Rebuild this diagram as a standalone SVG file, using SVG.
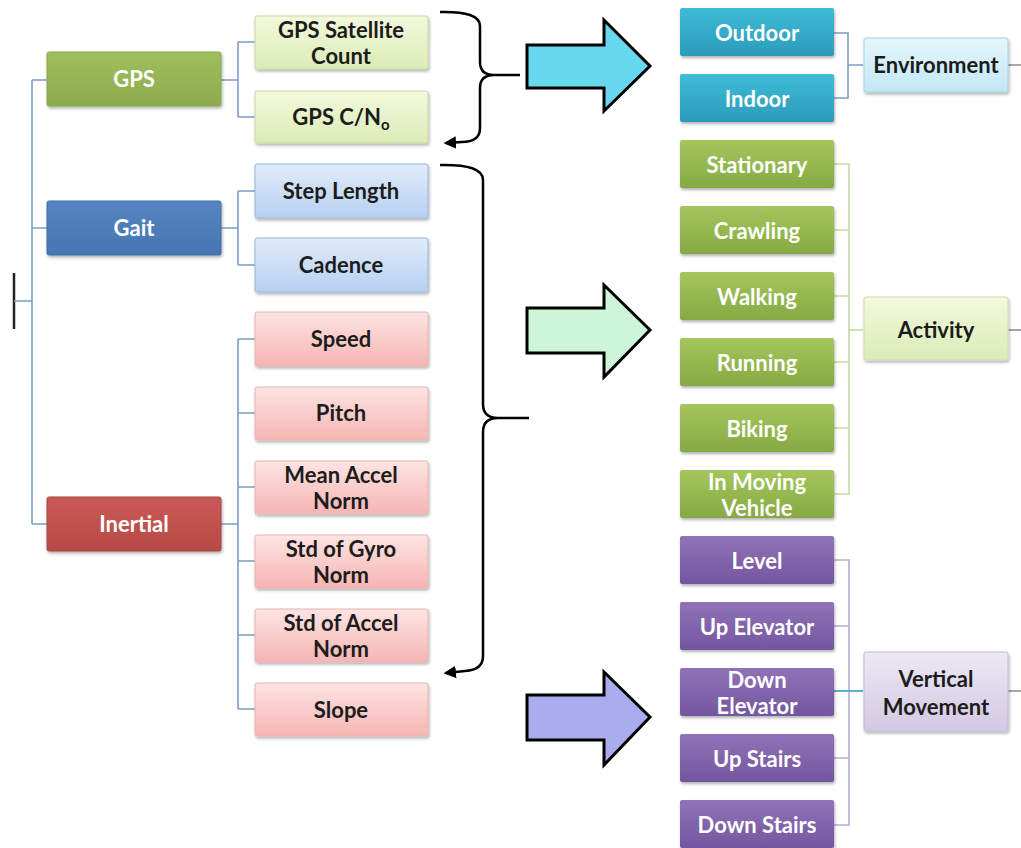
<svg xmlns="http://www.w3.org/2000/svg" width="1021" height="848" viewBox="0 0 1021 848">
<defs>
<filter id="sh" x="-10%" y="-10%" width="125%" height="135%"><feDropShadow dx="1" dy="2" stdDeviation="1.5" flood-color="#000" flood-opacity="0.3"/></filter>
<linearGradient id="gGps" x1="0" y1="0" x2="0" y2="1"><stop offset="0" stop-color="#9fbf5e"/><stop offset="1" stop-color="#8cab4c"/></linearGradient>
<linearGradient id="gGpsC" x1="0" y1="0" x2="0" y2="1"><stop offset="0" stop-color="#f2f9dc"/><stop offset="1" stop-color="#dcebb6"/></linearGradient>
<linearGradient id="gGait" x1="0" y1="0" x2="0" y2="1"><stop offset="0" stop-color="#5585c1"/><stop offset="1" stop-color="#4676b2"/></linearGradient>
<linearGradient id="gGaitC" x1="0" y1="0" x2="0" y2="1"><stop offset="0" stop-color="#e0ebfa"/><stop offset="1" stop-color="#b7d0f1"/></linearGradient>
<linearGradient id="gIn" x1="0" y1="0" x2="0" y2="1"><stop offset="0" stop-color="#c85a56"/><stop offset="1" stop-color="#b84a47"/></linearGradient>
<linearGradient id="gInC" x1="0" y1="0" x2="0" y2="1"><stop offset="0" stop-color="#fde4e3"/><stop offset="1" stop-color="#f6b5b3"/></linearGradient>
<linearGradient id="gTeal" x1="0" y1="0" x2="0" y2="1"><stop offset="0" stop-color="#3fbcd8"/><stop offset="1" stop-color="#2b9bb9"/></linearGradient>
<linearGradient id="gEnv" x1="0" y1="0" x2="0" y2="1"><stop offset="0" stop-color="#e6f6fc"/><stop offset="1" stop-color="#c2e8f5"/></linearGradient>
<linearGradient id="gAct" x1="0" y1="0" x2="0" y2="1"><stop offset="0" stop-color="#a4c65c"/><stop offset="1" stop-color="#87a944"/></linearGradient>
<linearGradient id="gActP" x1="0" y1="0" x2="0" y2="1"><stop offset="0" stop-color="#f2f9dc"/><stop offset="1" stop-color="#dbebb8"/></linearGradient>
<linearGradient id="gPur" x1="0" y1="0" x2="0" y2="1"><stop offset="0" stop-color="#9172b8"/><stop offset="1" stop-color="#7356a0"/></linearGradient>
<linearGradient id="gVm" x1="0" y1="0" x2="0" y2="1"><stop offset="0" stop-color="#ede8f4"/><stop offset="1" stop-color="#d3c9e3"/></linearGradient>
<marker id="ah" viewBox="0 0 10 10" refX="8" refY="5" markerWidth="5" markerHeight="5" orient="auto-start-reverse"><path d="M0,0 L10,5 L0,10 Z" fill="#000"/></marker>
</defs>
<style>
.t{font-family:Lato,"Open Sans","Liberation Sans",sans-serif;font-weight:700;font-size:22px;text-anchor:middle}
.w{fill:#ffffff}
.d{fill:#1c1c1c}
.b{filter:url(#sh)}
.ln{fill:none;stroke:#7d9dc6;stroke-width:1.6}
.lg{fill:none;stroke:#c6d9a0;stroke-width:1.6}
.lp{fill:none;stroke:#b8acd2;stroke-width:1.6}
.lgray{fill:none;stroke:#8a8a8a;stroke-width:1.6}
.br{fill:none;stroke:#000;stroke-width:2.5}
.ar{stroke:#000;stroke-width:3;stroke-linejoin:miter}
</style>
<rect width="1021" height="848" fill="#ffffff"/>

<g id="connectors">
<path class="lgray" d="M14,273 V329" style="stroke:#222;stroke-width:2.5"/>
<path class="ln" d="M14,301 H32 M32,80 V524 M32,80 H47 M32,228 H47 M32,524 H47"/>
<path class="ln" d="M221,80 H238 M238,42 V117 M238,42 H255 M238,117 H255"/>
<path class="ln" d="M221,228 H238 M238,191 V265 M238,191 H255 M238,265 H255"/>
<path class="ln" d="M221,524 H238 M238,339 V709 M238,339 H255 M238,413 H255 M238,487 H255 M238,561 H255 M238,635 H255 M238,709 H255"/>
<path class="ln" d="M834,33 H848 V98 H834 M848,65 H863"/>
<path class="lgray" d="M1008,65 H1021 M1008,330 H1021 M1008,691 H1021"/>
<path class="lg" d="M834,164 H849 V494 H834 M834,230 H849 M834,296 H849 M834,362 H849 M834,428 H849 M849,330 H863"/>
<path class="lp" d="M834,560 H849 V825 H834 M834,626 H849 M834,758 H849"/>
<path d="M834,691 H863" fill="none" stroke="#4aa6d2" stroke-width="1.8"/>
<path class="br" d="M440,12 Q480,11 480,26 V62 Q480,75 494,75 H520 M494,75 Q480,75 480,88 V128 Q480,142 462,142 L446,143" marker-end="url(#ah)"/>
<path class="br" d="M440,165 Q483,164 483,180 V404 Q483,418 498,418 H529 M498,418 Q483,418 483,432 V656 Q483,670 465,671 L446,673" marker-end="url(#ah)"/>
<path class="ar" fill="#67d9ee" d="M527,45 H604 V20 L650,66 L604,111 V88 H527 Z"/>
<path class="ar" fill="#cdf5d7" d="M527,308 H604 V285 L650,330 L604,377 V353 H527 Z"/>
<path class="ar" fill="#aaaced" d="M527,695 H604 V672 L650,717 L604,765 V740 H527 Z"/>
</g>

<g id="n-gps"><rect class="b" x="47" y="52" width="174" height="54" rx="2" fill="url(#gGps)" stroke="#8aa84a" stroke-width="1"/><text class="t w" x="134" y="87">GPS</text></g>
<g id="n-gait"><rect class="b" x="47" y="201" width="174" height="54" rx="2" fill="url(#gGait)" stroke="#3f6ea8" stroke-width="1"/><text class="t w" x="134" y="236">Gait</text></g>
<g id="n-inertial"><rect class="b" x="47" y="497" width="174" height="54" rx="2" fill="url(#gIn)" stroke="#a84442" stroke-width="1"/><text class="t w" x="134" y="532">Inertial</text></g>

<g id="n-satcount"><rect class="b" x="255" y="16" width="173" height="53" rx="2" fill="url(#gGpsC)" stroke="#c8d9a4" stroke-width="1"/><text class="t d" x="341" y="38">GPS Satellite</text><text class="t d" x="341" y="64">Count</text></g>
<g id="n-cno"><rect class="b" x="255" y="91" width="173" height="52" rx="2" fill="url(#gGpsC)" stroke="#c8d9a4" stroke-width="1"/><text class="t d" x="341" y="125">GPS C/N<tspan font-size="15" dy="5">o</tspan></text></g>
<g id="n-step"><rect class="b" x="255" y="164" width="173" height="54" rx="2" fill="url(#gGaitC)" stroke="#98b6dc" stroke-width="1"/><text class="t d" x="341" y="199">Step Length</text></g>
<g id="n-cadence"><rect class="b" x="255" y="238" width="173" height="54" rx="2" fill="url(#gGaitC)" stroke="#98b6dc" stroke-width="1"/><text class="t d" x="341" y="273">Cadence</text></g>
<g id="n-speed"><rect class="b" x="255" y="312" width="173" height="54" rx="2" fill="url(#gInC)" stroke="#e8b4b2" stroke-width="1"/><text class="t d" x="341" y="347">Speed</text></g>
<g id="n-pitch"><rect class="b" x="255" y="387" width="173" height="53" rx="2" fill="url(#gInC)" stroke="#e8b4b2" stroke-width="1"/><text class="t d" x="341" y="421">Pitch</text></g>
<g id="n-meanaccel"><rect class="b" x="255" y="461" width="173" height="53" rx="2" fill="url(#gInC)" stroke="#e8b4b2" stroke-width="1"/><text class="t d" x="341" y="483">Mean Accel</text><text class="t d" x="341" y="509">Norm</text></g>
<g id="n-stdgyro"><rect class="b" x="255" y="535" width="173" height="53" rx="2" fill="url(#gInC)" stroke="#e8b4b2" stroke-width="1"/><text class="t d" x="341" y="557">Std of Gyro</text><text class="t d" x="341" y="583">Norm</text></g>
<g id="n-stdaccel"><rect class="b" x="255" y="609" width="173" height="53" rx="2" fill="url(#gInC)" stroke="#e8b4b2" stroke-width="1"/><text class="t d" x="341" y="631">Std of Accel</text><text class="t d" x="341" y="657">Norm</text></g>
<g id="n-slope"><rect class="b" x="255" y="683" width="173" height="53" rx="2" fill="url(#gInC)" stroke="#e8b4b2" stroke-width="1"/><text class="t d" x="341" y="718">Slope</text></g>

<g id="n-outdoor"><rect class="b" x="680" y="8" width="154" height="48" rx="2" fill="url(#gTeal)"/><text class="t w" x="757" y="41">Outdoor</text></g>
<g id="n-indoor"><rect class="b" x="680" y="74" width="154" height="48" rx="2" fill="url(#gTeal)"/><text class="t w" x="757" y="107">Indoor</text></g>
<g id="n-environment"><rect class="b" x="864" y="38" width="144" height="54" rx="2" fill="url(#gEnv)" stroke="#9fd3e3" stroke-width="1"/><text class="t d" x="936" y="73">Environment</text></g>

<g id="n-stationary"><rect class="b" x="680" y="140" width="154" height="48" rx="2" fill="url(#gAct)"/><text class="t w" x="757" y="173">Stationary</text></g>
<g id="n-crawling"><rect class="b" x="680" y="206" width="154" height="48" rx="2" fill="url(#gAct)"/><text class="t w" x="757" y="239">Crawling</text></g>
<g id="n-walking"><rect class="b" x="680" y="272" width="154" height="48" rx="2" fill="url(#gAct)"/><text class="t w" x="757" y="305">Walking</text></g>
<g id="n-running"><rect class="b" x="680" y="338" width="154" height="48" rx="2" fill="url(#gAct)"/><text class="t w" x="757" y="371">Running</text></g>
<g id="n-biking"><rect class="b" x="680" y="404" width="154" height="48" rx="2" fill="url(#gAct)"/><text class="t w" x="757" y="437">Biking</text></g>
<g id="n-vehicle"><rect class="b" x="680" y="470" width="154" height="48" rx="2" fill="url(#gAct)"/><text class="t w" x="757" y="490">In Moving</text><text class="t w" x="757" y="516">Vehicle</text></g>
<g id="n-activity"><rect class="b" x="864" y="297" width="144" height="63" rx="2" fill="url(#gActP)" stroke="#cddfa9" stroke-width="1"/><text class="t d" x="936" y="338">Activity</text></g>

<g id="n-level"><rect class="b" x="680" y="536" width="154" height="48" rx="2" fill="url(#gPur)"/><text class="t w" x="757" y="569">Level</text></g>
<g id="n-upelev"><rect class="b" x="680" y="602" width="154" height="48" rx="2" fill="url(#gPur)"/><text class="t w" x="757" y="635">Up Elevator</text></g>
<g id="n-downelev"><rect class="b" x="680" y="668" width="154" height="48" rx="2" fill="url(#gPur)"/><text class="t w" x="757" y="688">Down</text><text class="t w" x="757" y="714">Elevator</text></g>
<g id="n-upstairs"><rect class="b" x="680" y="734" width="154" height="48" rx="2" fill="url(#gPur)"/><text class="t w" x="757" y="767">Up Stairs</text></g>
<g id="n-downstairs"><rect class="b" x="680" y="800" width="154" height="48" rx="2" fill="url(#gPur)"/><text class="t w" x="757" y="833">Down Stairs</text></g>
<g id="n-vertical"><rect class="b" x="864" y="652" width="144" height="79" rx="2" fill="url(#gVm)" stroke="#c4b8d8" stroke-width="1"/><text class="t d" x="936" y="687">Vertical</text><text class="t d" x="936" y="715">Movement</text></g>
</svg>
